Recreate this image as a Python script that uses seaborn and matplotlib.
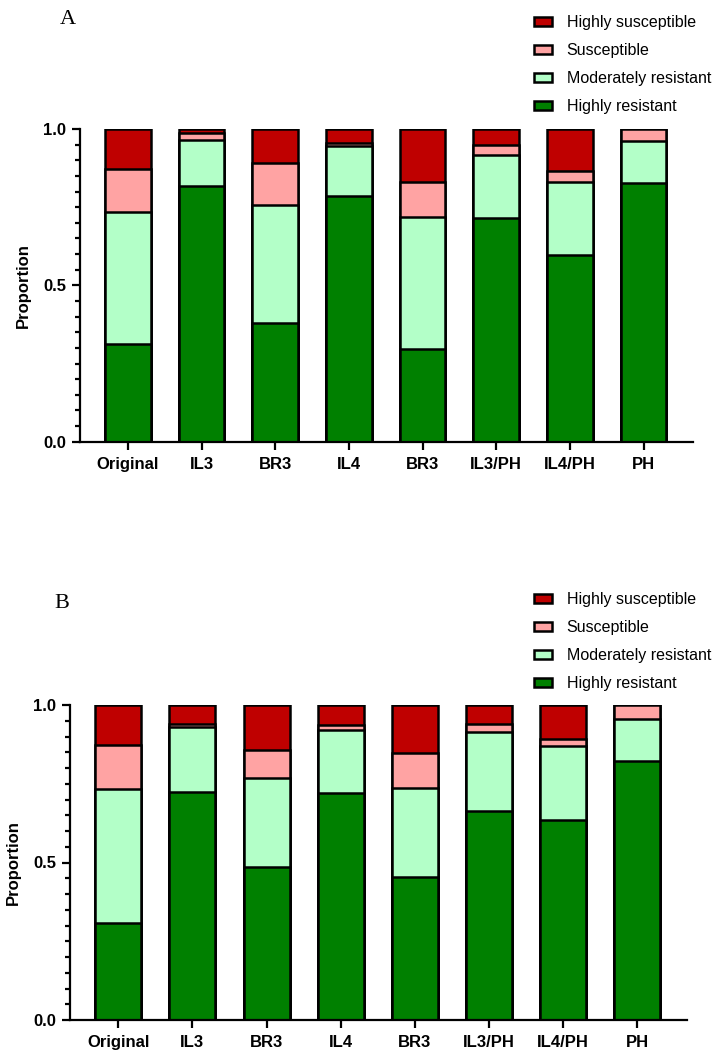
import numpy as np
import pandas as pd
import seaborn as sns
import matplotlib.pyplot as plt
from matplotlib.patches import Patch
from matplotlib.ticker import MultipleLocator

# categories (BR3 appears twice in the original figure)
groups = ["Original", "IL3", "BR3", "IL4", "BR3", "IL3/PH", "IL4/PH", "PH"]
classes = ["Highly resistant", "Moderately resistant", "Susceptible", "Highly susceptible"]
colors = ["#008000", "#B3FFC8", "#FFA3A3", "#BF0000"]

# panel A proportions
a_high_res = [0.311, 0.818, 0.381, 0.786, 0.296, 0.716, 0.597, 0.828]
a_mod_res = [0.425, 0.148, 0.376, 0.160, 0.422, 0.201, 0.235, 0.135]
a_susc = [0.135, 0.021, 0.134, 0.010, 0.114, 0.031, 0.034, 0.037]
a_high_susc = [0.129, 0.013, 0.109, 0.044, 0.168, 0.052, 0.134, 0.000]

# panel B proportions
b_high_res = [0.309, 0.725, 0.485, 0.720, 0.455, 0.665, 0.634, 0.822]
b_mod_res = [0.424, 0.204, 0.282, 0.200, 0.280, 0.249, 0.236, 0.135]
b_susc = [0.139, 0.010, 0.089, 0.017, 0.112, 0.027, 0.021, 0.043]
b_high_susc = [0.128, 0.061, 0.144, 0.063, 0.153, 0.059, 0.109, 0.000]

font = "Liberation Sans"


def draw_panel(ax, layers):
    df = pd.DataFrame(np.array(layers).T, columns=classes)
    df["pos"] = range(len(groups))
    cum = df[classes].cumsum(axis=1)
    # draw from the tallest cumulative layer downwards so the stacks overlap
    for cls, col in reversed(list(zip(classes, colors))):
        sns.barplot(x=df["pos"], y=cum[cls], color=col, edgecolor="black",
                    linewidth=1.8, width=0.62, saturation=1, ax=ax)
    ax.set_ylim(0, 1.0)
    ax.set_xlim(-0.65, len(groups) - 1 + 0.67)
    ax.set_xticks(range(len(groups)))
    ax.set_xticklabels(groups, fontsize=12, fontweight="bold", fontfamily=font)
    ax.set_yticks([0, 0.5, 1.0])
    ax.set_yticklabels(["0.0", "0.5", "1.0"], fontsize=12, fontweight="bold", fontfamily=font)
    ax.yaxis.set_minor_locator(MultipleLocator(0.05))
    ax.set_xlabel("")
    ax.set_ylabel("Proportion", fontsize=12, fontweight="bold", fontfamily=font, labelpad=9)
    sns.despine(ax=ax)
    for s in ["left", "bottom"]:
        ax.spines[s].set_linewidth(1.6)
        ax.spines[s].set_color("black")
    ax.tick_params(axis="both", which="major", length=6, width=1.6, color="black", pad=4)
    ax.tick_params(axis="y", which="minor", length=3.5, width=1.6, color="black")
    ax.tick_params(axis="x", which="minor", length=0)
    ax.tick_params(axis="x", pad=5)


sns.set_theme(style="ticks")
plt.rcParams["font.family"] = [font, "DejaVu Sans"]
plt.rcParams["text.color"] = "black"
plt.rcParams["axes.labelcolor"] = "black"
plt.rcParams["xtick.color"] = "black"
plt.rcParams["ytick.color"] = "black"

fig = plt.figure(figsize=(7.26, 10.58), dpi=100)
W, H = 726, 1058

axA = fig.add_axes([80 / W, 1 - 441.7 / H, (693 - 80) / W, (441.7 - 129) / H])
axB = fig.add_axes([70 / W, 1 - 1020 / H, (687 - 70) / W, (1020 - 705) / H])

draw_panel(axA, [a_high_res, a_mod_res, a_susc, a_high_susc])
draw_panel(axB, [b_high_res, b_mod_res, b_susc, b_high_susc])

fig.text(68 / W, 1 - 19 / H, "A", fontsize=16, fontfamily="Liberation Serif", ha="center", va="center")
fig.text(62 / W, 1 - 604 / H, "B", fontsize=16, fontfamily="Liberation Serif", ha="center", va="center")

handles = [Patch(facecolor=c, edgecolor="black", linewidth=1.8, label=l)
           for c, l in zip(colors, classes)][::-1]
for top in [15, 592]:
    fig.legend(handles=handles, loc="upper left", bbox_to_anchor=(534 / W, 1 - top / H),
               frameon=False, fontsize=11.5, handlelength=1.1, handleheight=0.45,
               handletextpad=0.95, labelspacing=0.82, borderpad=0, borderaxespad=0)

fig.savefig("out.png", dpi=100)
